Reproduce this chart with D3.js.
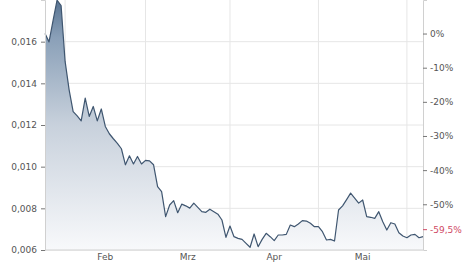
<!DOCTYPE html>
<html>
<head>
<meta charset="utf-8">
<script src="https://cdn.jsdelivr.net/npm/d3@7"></script>
<style>
  body { margin: 0; background: #fff; }
  svg text { font-family: "DejaVu Sans", sans-serif; font-size: 9px; fill: #555; }
</style>
</head>
<body>
<div id="chart"></div>
<script>
// Kurs pro Handelstag (Index 0 = erster Tag)
var prices = [
  0.01639, 0.01599, 0.01701, 0.01799, 0.01773, 0.01505, 0.01369, 0.01264, 0.01244, 0.01220,
  0.01329, 0.01241, 0.01289, 0.01220, 0.01277, 0.01193, 0.01158, 0.01134, 0.01112, 0.01086,
  0.01009, 0.01052, 0.01013, 0.01049, 0.01013, 0.01030, 0.01028, 0.01009, 0.00904, 0.00880,
  0.00760, 0.00816, 0.00837, 0.00779, 0.00820, 0.00812, 0.00801, 0.00825, 0.00805, 0.00784,
  0.00781, 0.00796, 0.00784, 0.00772, 0.00744, 0.00661, 0.00715, 0.00664, 0.00656, 0.00651,
  0.00632, 0.00613, 0.00677, 0.00616, 0.00651, 0.00680, 0.00664, 0.00645, 0.00672, 0.00672,
  0.00675, 0.00720, 0.00712, 0.00725, 0.00741, 0.00739, 0.00728, 0.00712, 0.00712, 0.00688,
  0.00648, 0.00651, 0.00643, 0.00792, 0.00812, 0.00842, 0.00873, 0.00849, 0.00825, 0.00840,
  0.00760, 0.00757, 0.00752, 0.00784, 0.00736, 0.00696, 0.00731, 0.00725, 0.00683, 0.00667,
  0.00659, 0.00672, 0.00675, 0.00659, 0.00664
];
var monthNames = ["Feb", "Mrz", "Apr", "Mai"];
var monthStarts = [5, 25, 46, 68, 90];   // Index des ersten Handelstags im Monat
var priceTicks = [0.006, 0.008, 0.010, 0.012, 0.014, 0.016];
var pctTicks = [0, -10, -20, -30, -40, -50];

var width = 474, height = 269;
var plotLeft = 45, plotRight = 423, plotTop = 0, plotBottom = 250;

var de = d3.formatLocale({ decimal: ",", thousands: ".", grouping: [3], currency: ["", " €"], minus: "-" });
var fmtPrice = de.format(".3f");
var fmtPct = de.format(".0f");
var fmtLast = de.format(".1f");

var svg = d3.select("#chart").append("svg")
  .attr("width", width)
  .attr("height", height);

var x = d3.scaleLinear().domain([0, prices.length - 1]).range([plotLeft, plotRight]);
var y = d3.scaleLinear().domain([0.006, 0.018]).range([plotBottom, plotTop]);
var base = prices[0];
var yPct = d3.scaleLinear()
  .domain([(0.006 / base - 1) * 100, (0.018 / base - 1) * 100])
  .range([plotBottom, plotTop]);

// Gitter
svg.append("g").selectAll("line")
  .data(priceTicks)
  .enter().append("line")
  .attr("x1", plotLeft).attr("x2", plotRight)
  .attr("y1", d => y(d)).attr("y2", d => y(d))
  .attr("stroke", "#e6e6e6");
svg.append("g").selectAll("line")
  .data(monthStarts)
  .enter().append("line")
  .attr("x1", d => x(d)).attr("x2", d => x(d))
  .attr("y1", plotTop).attr("y2", plotBottom)
  .attr("stroke", "#e6e6e6");

// Fläche + Linie
var grad = svg.append("defs").append("linearGradient")
  .attr("id", "fill")
  .attr("gradientUnits", "userSpaceOnUse")
  .attr("x1", 0).attr("x2", 0).attr("y1", plotTop).attr("y2", plotBottom);
grad.append("stop").attr("offset", "0%").attr("stop-color", "#587391");
grad.append("stop").attr("offset", "15%").attr("stop-color", "#8aa0b8");
grad.append("stop").attr("offset", "50%").attr("stop-color", "#c8d1dc");
grad.append("stop").attr("offset", "100%").attr("stop-color", "#f8f9fb");

svg.append("path")
  .datum(prices)
  .attr("fill", "url(#fill)")
  .attr("d", d3.area()
    .x((d, i) => x(i))
    .y0(plotBottom)
    .y1(d => y(d)));

svg.append("path")
  .datum(prices)
  .attr("fill", "none")
  .attr("stroke", "#3f5670")
  .attr("stroke-width", 1.2)
  .attr("stroke-linejoin", "round")
  .attr("d", d3.line()
    .x((d, i) => x(i))
    .y(d => y(d)));

// Achsen
var axisL = svg.append("g")
  .attr("transform", "translate(" + plotLeft + ",0)")
  .call(d3.axisLeft(y).tickValues(priceTicks).tickSize(4).tickPadding(4).tickFormat(fmtPrice));
var axisR = svg.append("g")
  .attr("transform", "translate(" + plotRight + ",0)")
  .call(d3.axisRight(yPct).tickValues(pctTicks).tickSize(4).tickPadding(3).tickFormat(d => fmtPct(d) + "%"));
[axisL, axisR].forEach(function(a) {
  a.select(".domain").attr("stroke", "#d0d0d0");
  a.selectAll(".tick line").attr("stroke", "#777");
  a.selectAll("text").attr("fill", "#555").style("font-size", "9px");
});

svg.append("line")
  .attr("x1", plotLeft).attr("x2", plotRight)
  .attr("y1", plotBottom).attr("y2", plotBottom)
  .attr("stroke", "#d0d0d0");

// Monatsbeschriftung
svg.append("g").selectAll("text")
  .data(monthNames)
  .enter().append("text")
  .attr("x", (d, i) => x((monthStarts[i] + monthStarts[i + 1]) / 2))
  .attr("y", plotBottom + 10)
  .attr("text-anchor", "middle")
  .text(d => d);

// letzter Kurs in Prozent
var lastPct = (prices[prices.length - 1] / base - 1) * 100;
var lastY = yPct(lastPct) - 7;
svg.append("line")
  .attr("x1", plotRight).attr("x2", plotRight + 4)
  .attr("y1", lastY).attr("y2", lastY)
  .attr("stroke", "#d04a64");
svg.append("text")
  .attr("x", plotRight + 7)
  .attr("y", lastY)
  .attr("dy", "0.32em")
  .style("fill", "#d04a64")
  .text(fmtLast(lastPct) + "%");
</script>
</body>
</html>
